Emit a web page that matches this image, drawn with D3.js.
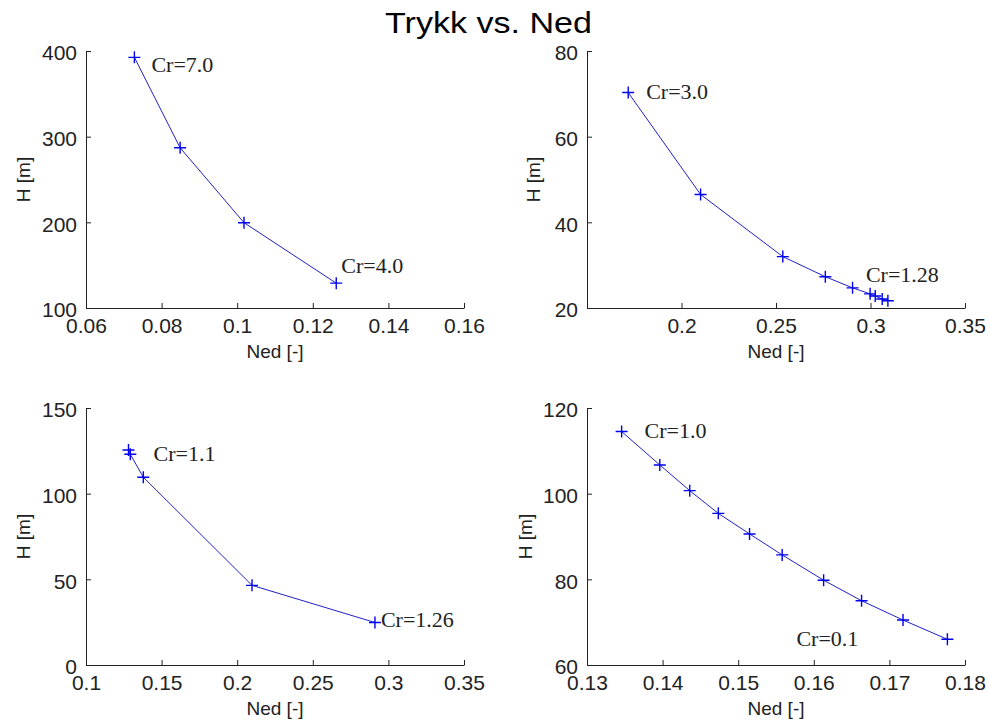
<!DOCTYPE html>
<html>
<head>
<meta charset="utf-8">
<script src="https://cdn.jsdelivr.net/npm/d3@7"></script>
<style>
  body { margin: 0; background: #fff; }
  svg { display: block; }
</style>
</head>
<body>
<div id="plot"></div>
<script>
// values: Ned [-] vs H [m]
const ned1 = [0.0728, 0.0849, 0.1018, 0.1262];
const h1 = [392.6, 287, 199.6, 129];
const ned2 = [0.1718, 0.2101, 0.2536, 0.2761, 0.2905, 0.2998, 0.3025, 0.3062, 0.3092];
const h2 = [70.3, 46.5, 32.0, 27.3, 24.7, 23.3, 22.8, 22.1, 21.7];
const ned3 = [0.1281, 0.1293, 0.1379, 0.2098, 0.2911];
const h3 = [125.5, 123.0, 109.6, 46.5, 24.8];
const ned4 = [0.13458, 0.13963, 0.14359, 0.14737, 0.15150, 0.15582, 0.16130, 0.16632, 0.17180, 0.17767];
const h4 = [114.5, 106.7, 100.7, 95.4, 90.6, 85.7, 79.8, 75.0, 70.5, 66.0];

const xDomains = [[0.06, 0.16], [0.15, 0.35], [0.1, 0.35], [0.13, 0.18]];
const yDomains = [[100, 400], [20, 80], [0, 150], [60, 120]];
const xTicks = [
  [0.06, 0.08, 0.1, 0.12, 0.14, 0.16],
  [0.2, 0.25, 0.3, 0.35],
  [0.1, 0.15, 0.2, 0.25, 0.3, 0.35],
  [0.13, 0.14, 0.15, 0.16, 0.17, 0.18]
];
const yTicks = [[100, 200, 300, 400], [20, 40, 60, 80], [0, 50, 100, 150], [60, 80, 100, 120]];

// annotation text and which point it belongs to
const crLabels = [["Cr=7.0", "Cr=4.0"], ["Cr=3.0", "Cr=1.28"], ["Cr=1.1", "Cr=1.26"], ["Cr=1.0", "Cr=0.1"]];
const crPoint = [[0, 3], [0, 8], [0, 4], [0, 9]];

const titleText = "Trykk vs. Ned";
const xLabel = "Ned [-]";
const yLabel = "H [m]";

const width = 989, height = 724;
const svg = d3.select("#plot").append("svg")
  .attr("width", width)
  .attr("height", height);

svg.append("text")
  .attr("x", 488.5)
  .attr("y", 33)
  .attr("text-anchor", "middle")
  .attr("font-family", "Liberation Sans, Arial, sans-serif")
  .attr("font-size", 29)
  .attr("textLength", 207)
  .attr("lengthAdjust", "spacingAndGlyphs")
  .attr("fill", "#000")
  .text(titleText);

const panels = [
  {x: ned1, y: h1, left: 86, top: 51, ylabX: 23, lab: [[17, 15], [5, -10]]},
  {x: ned2, y: h2, left: 587, top: 51, ylabX: 533, lab: [[18, 6], [-22, -19]]},
  {x: ned3, y: h3, left: 86, top: 408, ylabX: 23, lab: [[25, 11], [6, 4]]},
  {x: ned4, y: h4, left: 587, top: 408, ylabX: 525, lab: [[23, 6], [-151, 7]]}
];
const pw = 378, ph = 257;
const blue = "#0000ee";
const fmt = d => String(+d.toFixed(3));

panels.forEach((p, i) => {
  const x = d3.scaleLinear().domain(xDomains[i]).range([p.left, p.left + pw]);
  const y = d3.scaleLinear().domain(yDomains[i]).range([p.top + ph, p.top]);

  const gx = svg.append("g")
    .attr("transform", `translate(0,${p.top + ph})`)
    .call(d3.axisBottom(x).tickValues(xTicks[i]).tickFormat(fmt)
      .tickSizeInner(-5).tickSizeOuter(0).tickPadding(10));
  const gy = svg.append("g")
    .attr("transform", `translate(${p.left},0)`)
    .call(d3.axisLeft(y).tickValues(yTicks[i]).tickFormat(fmt)
      .tickSizeInner(-5).tickSizeOuter(0).tickPadding(9));

  [gx, gy].forEach(g => {
    g.select(".domain").attr("stroke", "#222");
    g.selectAll(".tick line").attr("stroke", "#222");
    g.selectAll(".tick text")
      .attr("font-family", "Liberation Sans, Arial, sans-serif")
      .attr("font-size", 21)
      .attr("fill", "#222");
  });
  gy.selectAll(".tick text").attr("dy", "0.42em");

  svg.append("text")
    .attr("x", p.left + pw / 2)
    .attr("y", p.top + ph + 50)
    .attr("text-anchor", "middle")
    .attr("font-family", "Liberation Sans, Arial, sans-serif")
    .attr("font-size", 19)
    .attr("fill", "#222")
    .text(xLabel);

  svg.append("text")
    .attr("transform", `translate(${p.ylabX},${p.top + ph / 2}) rotate(-90)`)
    .attr("text-anchor", "middle")
    .attr("dominant-baseline", "central")
    .attr("font-family", "Liberation Sans, Arial, sans-serif")
    .attr("font-size", 19)
    .attr("fill", "#222")
    .text(yLabel);

  const pts = p.x.map((v, k) => [v, p.y[k]]);

  svg.append("path")
    .datum(pts)
    .attr("fill", "none")
    .attr("stroke", "#2020c8")
    .attr("stroke-width", 1)
    .attr("d", d3.line().x(d => x(d[0])).y(d => y(d[1])));

  const s = 6;
  svg.append("g").selectAll("path")
    .data(pts)
    .enter().append("path")
    .attr("fill", "none")
    .attr("stroke", blue)
    .attr("stroke-width", 1.4)
    .attr("d", d => {
      const cx = x(d[0]), cy = y(d[1]);
      return `M${cx - s},${cy}H${cx + s}M${cx},${cy - s}V${cy + s}`;
    });

  crLabels[i].forEach((t, j) => {
    const pt = pts[crPoint[i][j]];
    svg.append("text")
      .attr("x", x(pt[0]) + p.lab[j][0])
      .attr("y", y(pt[1]) + p.lab[j][1])
      .attr("font-family", "Liberation Serif, Times New Roman, serif")
      .attr("font-size", 22)
      .attr("fill", "#222")
      .text(t);
  });
});
</script>
</body>
</html>
